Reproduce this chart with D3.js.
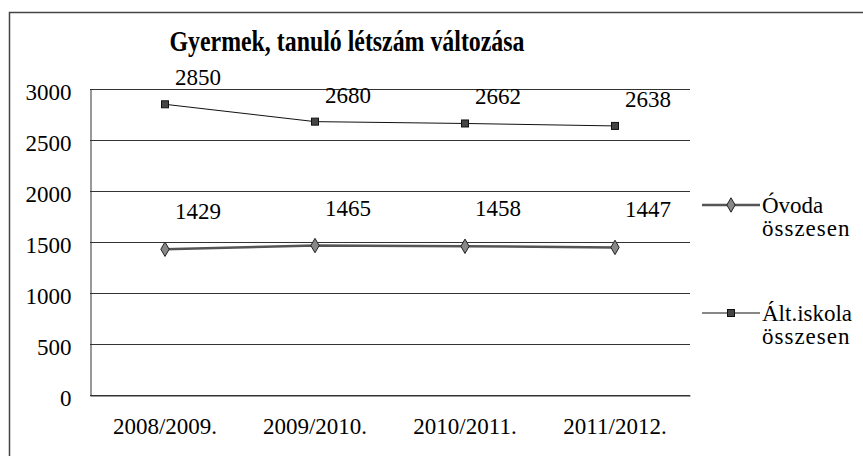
<!DOCTYPE html>
<html>
<head>
<meta charset="utf-8">
<script src="https://cdn.jsdelivr.net/npm/d3@7"></script>
<style>
  html, body { margin: 0; padding: 0; background: #fff; }
  svg { display: block; }
  svg text { font-family: "Liberation Serif", "Times New Roman", serif; }
</style>
</head>
<body>
<svg width="863" height="456"></svg>
<script>
// chart data
var years = ["2008/2009.", "2009/2010.", "2010/2011.", "2011/2012."];
var ovoda = [1429, 1465, 1458, 1447];
var iskola = [2850, 2680, 2662, 2638];
var yTicks = [0, 500, 1000, 1500, 2000, 2500, 3000];
var seriesNames = [["Óvoda", "összesen"], ["Ált.iskola", "összesen"]];

var svg = d3.select("svg");
var plotL = 90, plotR = 690, plotT = 89, plotB = 395;
var serif = "Liberation Serif, Times New Roman, serif";

// outer frame (only left and top edges fall inside the picture)
svg.append("path")
   .attr("d", "M9.5,456 L9.5,12.5 L863,12.5")
   .attr("fill", "none")
   .attr("stroke", "#444")
   .attr("stroke-width", 1.5);

svg.append("text")
   .attr("x", 347)
   .attr("y", 51)
   .attr("text-anchor", "middle")
   .attr("font-family", serif)
   .attr("font-size", "30px")
   .attr("font-weight", "bold")
   .attr("textLength", 355)
   .attr("lengthAdjust", "spacingAndGlyphs")
   .text("Gyermek, tanuló létszám változása");

var xScale = d3.scaleBand().domain(years).range([plotL, plotR]),
    yScale = d3.scaleLinear().domain([0, 3000]).range([plotB, plotT]);
var xc = function(d, i) { return xScale(years[i]) + xScale.bandwidth() / 2; };

// gridlines
svg.append("g")
   .selectAll("line")
   .data(yTicks)
   .enter().append("line")
   .attr("x1", plotL).attr("x2", plotR)
   .attr("y1", function(d) { return Math.round(yScale(d)) + 0.5; })
   .attr("y2", function(d) { return Math.round(yScale(d)) + 0.5; })
   .attr("stroke", "#333")
   .attr("stroke-width", 1);

// y axis
var ya = svg.append("g")
   .attr("transform", "translate(" + (plotL + 0.5) + ",0)")
   .call(d3.axisLeft(yScale).tickValues(yTicks).tickFormat(d3.format("d")).tickSize(0).tickPadding(19));
ya.select(".domain").attr("stroke", "#333");
ya.selectAll("text")
   .attr("font-family", serif)
   .attr("font-size", "23px")
   .attr("fill", "#000")
   .attr("dy", "0.45em");

// x axis
var xa = svg.append("g")
   .attr("transform", "translate(0," + (plotB + 0.5) + ")")
   .call(d3.axisBottom(xScale).tickSize(0).tickPadding(22));
xa.select(".domain").attr("stroke", "#333");
xa.selectAll("text")
   .attr("font-family", serif)
   .attr("font-size", "23px")
   .attr("fill", "#000")
   .attr("dy", "0.71em");

var line = d3.line()
   .x(function(d, i) { return xc(d, i); })
   .y(function(d) { return yScale(d); });

// Óvoda series
svg.append("path")
   .datum(ovoda)
   .attr("d", line)
   .attr("fill", "none")
   .attr("stroke", "#555")
   .attr("stroke-width", 2.5);
svg.append("g")
   .selectAll("path")
   .data(ovoda)
   .enter().append("path")
   .attr("transform", function(d, i) { return "translate(" + xc(d, i) + "," + yScale(d) + ")"; })
   .attr("d", d3.symbol(d3.symbolDiamond, 60))
   .attr("fill", "#888")
   .attr("stroke", "#222")
   .attr("stroke-width", 1);
svg.append("g")
   .selectAll("text")
   .data(ovoda)
   .enter().append("text")
   .attr("x", function(d, i) { return xc(d, i) + 33; })
   .attr("y", function(d) { return yScale(d) - 30; })
   .attr("text-anchor", "middle")
   .attr("font-family", serif)
   .attr("font-size", "23px")
   .text(function(d) { return d; });

// Ált.iskola series
svg.append("path")
   .datum(iskola)
   .attr("d", line)
   .attr("fill", "none")
   .attr("stroke", "#111")
   .attr("stroke-width", 1);
svg.append("g")
   .selectAll("rect")
   .data(iskola)
   .enter().append("rect")
   .attr("x", function(d, i) { return xc(d, i) - 3.5; })
   .attr("y", function(d) { return yScale(d) - 3.5; })
   .attr("width", 7).attr("height", 7)
   .attr("fill", "#444")
   .attr("stroke", "#111")
   .attr("stroke-width", 1);
svg.append("g")
   .selectAll("text")
   .data(iskola)
   .enter().append("text")
   .attr("x", function(d, i) { return xc(d, i) + 33; })
   .attr("y", function(d) { return yScale(d) - 19; })
   .attr("text-anchor", "middle")
   .attr("font-family", serif)
   .attr("font-size", "23px")
   .text(function(d) { return d; });

// legend
var lg = svg.append("g").attr("transform", "translate(702,0)");
var legY = [205, 313];
seriesNames.forEach(function(names, k) {
  var y = legY[k];
  lg.append("line")
    .attr("x1", 0).attr("x2", 58)
    .attr("y1", y).attr("y2", y)
    .attr("stroke", k === 0 ? "#555" : "#111")
    .attr("stroke-width", k === 0 ? 2.5 : 1);
  if (k === 0) {
    lg.append("path")
      .attr("transform", "translate(29," + y + ")")
      .attr("d", d3.symbol(d3.symbolDiamond, 60))
      .attr("fill", "#888").attr("stroke", "#222");
  } else {
    lg.append("rect")
      .attr("x", 25.5).attr("y", y - 3.5)
      .attr("width", 7).attr("height", 7)
      .attr("fill", "#444").attr("stroke", "#111");
  }
  names.forEach(function(n, j) {
    lg.append("text")
      .attr("x", 60)
      .attr("y", y + 8 + j * 23)
      .attr("font-family", serif)
      .attr("font-size", "23px")
      .attr("letter-spacing", j === 1 ? "1px" : "0px")
      .text(n);
  });
});
</script>
</body>
</html>
